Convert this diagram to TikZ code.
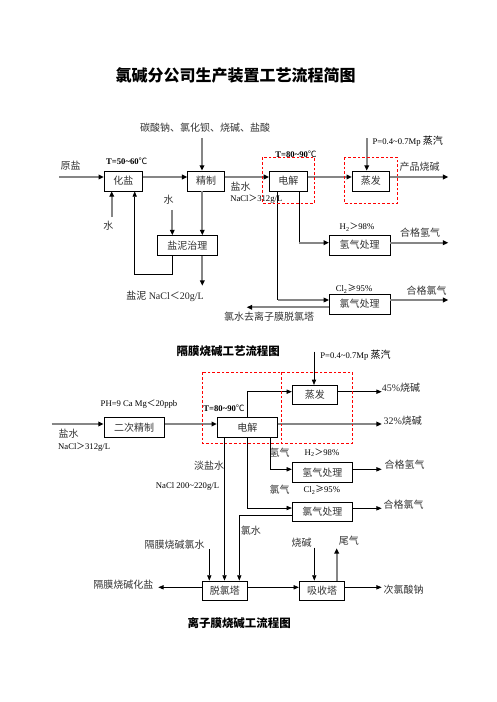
\documentclass[tikz,border=0pt]{standalone}
\usepackage{fontspec}
\setmainfont{Liberation Serif}
\newfontfamily\cjk{Noto Sans CJK SC}
\usetikzlibrary{arrows.meta,calc}
\tikzset{
 gl/.style={draw=gray!95, line width=1.3pt},
 gar/.style={gl, -{Triangle[length=4pt,width=3.5pt,color=black]}},
 bl/.style={draw=black, line width=0.6pt},
 bar/.style={bl, -{Triangle[length=4pt,width=3.2pt]}},
 bx/.style 2 args={draw=black, line width=0.6pt, minimum width=#1*0.75pt, minimum height=#2*0.75pt, inner sep=0pt, font=\cjk\fontsize{7.5}{9}\selectfont, text=black!80},
 zh/.style={inner sep=0pt, font=\cjk\fontsize{7.5}{9}\selectfont, text=black!80},
 mx/.style={inner sep=0pt, font=\fontsize{7.5}{9}\selectfont, text=black!85},
 sm/.style={inner sep=0pt, font=\fontsize{6.5}{8}\selectfont},
 smb/.style={inner sep=0pt, font=\bfseries\fontsize{6.5}{8}\selectfont},
 rd/.style={draw=red, line width=0.6pt, dash pattern=on 2pt off 1.5pt},
 ttl/.style={inner sep=0pt, font=\cjk\bfseries\fontsize{12}{14}\selectfont},
 sttl/.style={inner sep=0pt, font=\cjk\bfseries\fontsize{8.6}{10}\selectfont},
}
\begin{document}
\begin{tikzpicture}[x=0.75pt,y=-0.75pt]
\useasboundingbox (0,0) rectangle (496,702);

\node[ttl] (title) at (235.5,75) {氯碱分公司生产装置工艺流程简图};

% ---------------- diagram 1 ----------------
\node[bx={38}{20}] (hy) at (123.3,181) {化盐};
\node[bx={36.6}{20}] (jz) at (206,181) {精制};
\node[bx={38}{20}] (dj) at (288.4,181) {电解};
\node[bx={37}{20}] (zf) at (370.8,181) {蒸发};
\node[bx={60}{20}] (yn) at (187.3,245.5) {盐泥治理};
\node[bx={60.7}{20}] (qq) at (359.7,245) {氢气处理};
\node[bx={60.7}{20}] (lq) at (359.7,304) {氯气处理};

\node[zh] (yy) at (70.7,166) {原盐};
\node[smb] (t1) at (126.8,161) {T=50\textasciitilde60{\cjk\mdseries ℃}};
\node[zh] (chem) at (205,128) {碳酸钠、氯化钡、烧碱、盐酸};
\node[zh] (s1) at (108.3,226) {水};
\node[zh] (s2) at (168.5,200) {水};
\node[mx] (ynl) at (165,296) {{\cjk 盐泥} NaCl{\cjk ＜}20g/L};
\node[zh] (ys) at (240.7,187) {盐水};
\node[sm] (nacl1) at (256.3,199) {NaCl{\cjk ＞}312g/L};
\node[smb] (t2) at (296,154) {T=80\textasciitilde90{\cjk\mdseries ℃}};
\node[sm] (p1) at (407.8,141.7) {P=0.4\textasciitilde0.7Mp {\cjk\fontsize{7.5}{9}\selectfont 蒸汽}};
\node[zh] (cp) at (419.5,166.7) {产品烧碱};
\node[sm] (h2) at (357,227.3) {H\textsubscript{2}{\cjk ＞}98\%};
\node[zh] (hq) at (420,232.3) {合格氢气};
\node[sm] (cl2) at (354,289) {Cl\textsubscript{2}{\cjk ≥}95\%};
\node[zh] (hl) at (426.7,290.7) {合格氯气};
\node[zh] (ls) at (269,316.7) {氯水去离子膜脱氯塔};

\coordinate (a0) at (59,177);
\draw[gar] (a0) -- (a0 -| hy.west);
\draw[gar] (hy.east |- a0) -- (jz.west |- a0);
\draw[gar] (jz.east |- a0) -- (dj.west |- a0);
\draw[gar] (dj.east |- a0) -- (zf.west |- a0);
\coordinate (a1) at (448.3,177);
\draw[gar] (zf.east |- a0) -- (a1);
\coordinate (c1) at (202,138);
\draw[gar] (c1) -- (c1 |- jz.north);
\coordinate (w1) at (111.7,217);
\draw[gar] (w1) -- (w1 |- hy.south);
\coordinate (w2) at (172.3,210);
\draw[gar] (w2) -- (w2 |- yn.north);
\coordinate (r1) at (172.7,274.3);
\coordinate (r2) at (134.7,274.3);
\draw[bar] (r1 |- yn.south) -- (r1) -- (r2) -- (r2 |- hy.south);
\coordinate (v1) at (202.3,285.7);
\draw[gar] (v1 |- jz.south) -- (v1 |- yn.north);
\draw[gar] (v1 |- yn.south) -- (v1);
\coordinate (pp) at (366.7,138.3);
\draw[gar] (pp) -- (pp |- zf.north);
\coordinate (e1) at (299.3,242.7);
\draw[bl] (e1 |- dj.south) -- (e1);
\draw[gar] (e1) -- (qq.west |- e1);
\coordinate (e2) at (277.7,300);
\draw[bl] (e2 |- dj.south) -- (e2);
\draw[gar] (e2) -- (lq.west |- e2);
\coordinate (o1) at (448.3,242.7);
\draw[gar] (qq.east |- o1) -- (o1);
\coordinate (o2) at (448.3,300);
\draw[gar] (lq.east |- o2) -- (o2);
\coordinate (o3) at (246.7,307.3);
\draw[gar] (lq.west |- o3) -- (o3);

\draw[rd] (262.5,157.3) rectangle (314.3,203.3);
\draw[rd] (344.3,157.3) rectangle (397.3,203.3);

\node[sttl] (st1) at (228.3,351) {隔膜烧碱工艺流程图};

% ---------------- diagram 2 ----------------
\node[bx={60.3}{20}] (ec) at (134.2,427.3) {二次精制};
\node[bx={60}{20}] (dj2) at (247.3,427.3) {电解};
\node[bx={45}{18.7}] (zf2) at (314.8,394.7) {蒸发};
\node[bx={60.2}{20}] (qq2) at (322.4,472.3) {氢气处理};
\node[bx={60.2}{19.2}] (lq2) at (322.4,512.1) {氯气处理};
\node[bx={45}{19}] (tl) at (224.8,590.5) {脱氯塔};
\node[bx={45.4}{19}] (xs) at (322,590.5) {吸收塔};

\node[sm] (ph) at (139,404) {PH=9 Ca Mg{\cjk ＜}20ppb};
\node[zh] (ys2) at (68.7,434) {盐水};
\node[sm] (nacl2) at (84.2,446.7) {NaCl{\cjk ＞}312g/L};
\node[smb] (t3) at (224,408.3) {T=80\textasciitilde90{\cjk\mdseries ℃}};
\node[sm] (p2) at (355.5,355) {P=0.4\textasciitilde0.7Mp {\cjk\fontsize{7.5}{9}\selectfont 蒸汽}};
\node[mx] (k45) at (401,387.3) {45\%{\cjk 烧碱}};
\node[mx] (k32) at (402.8,421) {32\%{\cjk 烧碱}};
\node[zh] (hql) at (279.5,452.7) {氢气};
\node[sm] (h22) at (322,452.7) {H\textsubscript{2}{\cjk ＞}98\%};
\node[zh] (lql) at (279.5,490) {氯气};
\node[sm] (cl22) at (321.8,490) {Cl\textsubscript{2}{\cjk ≥}95\%};
\node[zh] (hq3) at (404.5,465) {合格氢气};
\node[zh] (hl3) at (403.7,504.3) {合格氯气};
\node[zh] (dy) at (209,465.5) {淡盐水};
\node[sm] (nacl3) at (187.5,486) {NaCl 200\textasciitilde220g/L};
\node[zh] (ls2) at (250.8,531) {氯水};
\node[zh] (gm) at (174.5,545) {隔膜烧碱氯水};
\node[zh] (gh) at (123.3,585) {隔膜烧碱化盐};
\node[zh] (cl) at (403.7,590) {次氯酸钠};
\node[zh] (sj) at (301.7,542.7) {烧碱};
\node[zh] (wq) at (348.8,540.7) {尾气};

\coordinate (b0) at (51.7,424);
\draw[gar] (b0) -- (b0 -| ec.west);
\draw[gar] (ec.east |- b0) -- (dj2.west |- b0);
\coordinate (b1) at (381.7,424);
\draw[gar] (dj2.east |- b1) -- (b1);
\coordinate (b2) at (247.3,391.7);
\draw[bar] (b2 |- dj2.north) -- (b2) -- (zf2.west |- b2);
\coordinate (b3) at (381.7,391.7);
\draw[bar] (zf2.east |- b3) -- (b3);
\coordinate (pp2) at (314,351.7);
\draw[bar] (pp2) -- (pp2 |- zf2.north);
\coordinate (b4) at (270,469.3);
\draw[bar] (b4 |- dj2.south) -- (b4) -- (qq2.west |- b4);
\coordinate (b5) at (247.3,508);
\draw[bar] (b5 |- dj2.south) -- (b5) -- (lq2.west |- b5);
\coordinate (b6) at (381.7,469.3);
\draw[bar] (qq2.east |- b6) -- (b6);
\coordinate (b7) at (381.7,508.3);
\draw[bar] (lq2.east |- b7) -- (b7);
\coordinate (b8) at (224.5,500);
\draw[bar] (b8 |- dj2.south) -- (b8 |- tl.north);
\coordinate (b9) at (239.3,515);
\draw[bar] (lq2.west |- b9) -- (b9) -- (b9 |- tl.north);
\coordinate (b10) at (209.3,549);
\draw[bar] (b10) -- (b10 |- tl.north);
\coordinate (b11) at (158.3,587.3);
\draw[bar] (tl.west |- b11) -- (b11);
\draw[bar] (tl.east |- b11) -- (xs.west |- b11);
\coordinate (b12) at (381.7,587.3);
\draw[bar] (xs.east |- b12) -- (b12);
\coordinate (b13) at (314.3,547.7);
\draw[bar] (b13) -- (b13 |- xs.north);
\coordinate (b14) at (336.7,548.3);
\draw[gar] (b14 |- xs.north) -- (b14);

\draw[rd] (202.3,372.3) rectangle (352.3,443.3);
\draw[rd] (281.7,372.3) -- (281.7,443.3);

\node[sttl] (st2) at (239.2,623.3) {离子膜烧碱工流程图};
\end{tikzpicture}
\end{document}
